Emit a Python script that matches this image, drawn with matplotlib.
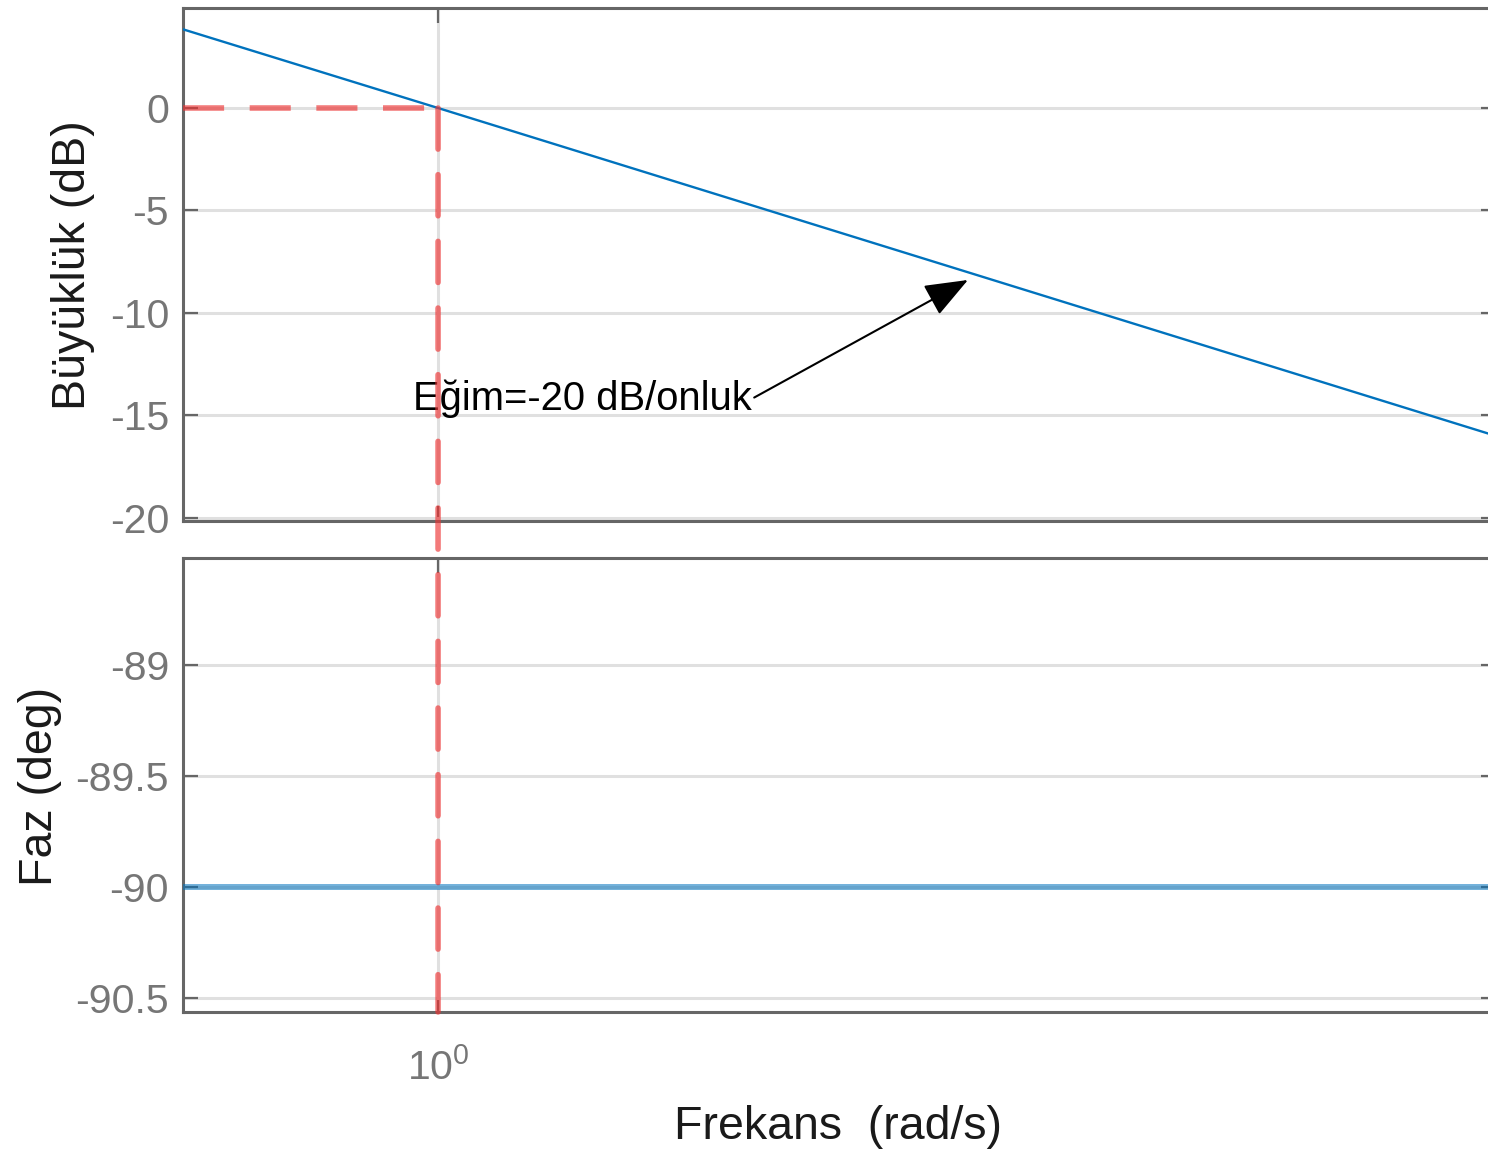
import matplotlib
matplotlib.use("Agg")
import matplotlib.pyplot as plt
from matplotlib.patches import ConnectionPatch
from matplotlib.ticker import NullLocator, FixedLocator

plt.rcParams['font.family'] = ['Liberation Sans', 'DejaVu Sans']
plt.rcParams['mathtext.fontset'] = 'custom'
plt.rcParams['mathtext.rm'] = 'Liberation Sans'
plt.rcParams['mathtext.it'] = 'Liberation Sans:italic'

# values (Bode plot of 1/s)
freq = [0.643, 1.0, 6.245]
mag_db = [3.84, 0.0, -16.0]
phase_freq = [0.643, 6.245]
phase_deg = [-90.0, -90.0]

mag_ticks = [-20, -15, -10, -5, 0]
mag_labels = ['-20', '-15', '-10', '-5', '0']
phase_ticks = [-90.5, -90, -89.5, -89]
phase_labels = ['-90.5', '-90', '-89.5', '-89']
freq_ticks = [1.0]
freq_labels = [r'$\mathregular{10^{0}}$']

cross_freq = 1.0
cross_db = 0.0
slope_text = 'Eğim=-20 dB/onluk'
slope_tip = (2.503, -8.39)
slope_text_pos = (0.957, -14.75)

W, H = 1488, 1155
fig = plt.figure(figsize=(W / 100, H / 100), dpi=100)

left = 183 / W
width = (1496 - 183) / W
ax1 = fig.add_axes([left, 1 - 521 / H, width, (521 - 8) / H])
ax2 = fig.add_axes([left, 1 - 1012 / H, width, (1012 - 558) / H])

spine_col = '#666666'
tick_col = '#767676'
grid_col = '#e0e0e0'
blue = '#0072bd'
red = (0.93, 0.2, 0.2)
dash = (0, (7.4, 4.6))

for ax in (ax1, ax2):
    ax.set_xscale('log')
    ax.set_xlim(0.643, 6.245)
    ax.xaxis.set_major_locator(FixedLocator(freq_ticks))
    ax.xaxis.set_minor_locator(NullLocator())
    ax.grid(True, color=grid_col, lw=2.2)
    ax.set_axisbelow(True)
    for s in ax.spines.values():
        s.set_color(spine_col)
        s.set_linewidth(2.2)
    ax.tick_params(direction='in', length=11, width=1.6, color=spine_col,
                   top=True, right=True, labelsize=29.5, labelcolor=tick_col,
                   pad=10)

# magnitude
ax1.plot(freq, mag_db, color=blue, lw=1.7, zorder=3)
ax1.set_ylim(-20.15, 4.88)
ax1.set_yticks(mag_ticks)
ax1.set_yticklabels(mag_labels)
ax1.tick_params(axis='x', labelbottom=False)
ax1.plot([0.643, cross_freq], [cross_db, cross_db], color=red, alpha=0.65,
         lw=4, ls=dash, zorder=4, solid_capstyle='butt')

ax1.annotate(slope_text, xy=slope_tip, xytext=slope_text_pos,
             ha='left', va='baseline', fontsize=28.8, color='black', zorder=5,
             arrowprops=dict(arrowstyle='-|>,head_length=0.9,head_width=0.35',
                             mutation_scale=30, color='black', lw=1.5,
                             shrinkA=0, shrinkB=0, relpos=(1.0, 0.5)))

# phase
ax2.plot(phase_freq, phase_deg, color=blue, alpha=0.55, lw=4.3, zorder=3)
ax2.set_ylim(-90.563, -88.518)
ax2.set_yticks(phase_ticks)
ax2.set_yticklabels(phase_labels)
ax2.set_xticklabels(freq_labels)
ax2.tick_params(axis='x', pad=26)

# red dashed line through both panels at the crossover
con = ConnectionPatch(xyA=(cross_freq, cross_db), coordsA=ax1.transData,
                      xyB=(cross_freq, -90.563), coordsB=ax2.transData,
                      arrowstyle='-', color=red, alpha=0.65, lw=4,
                      linestyle=dash, zorder=6)
fig.add_artist(con)

fig.text(73 / W, 1 - 265 / H, 'Büyüklük (dB)', rotation=90, ha='center',
         va='center', fontsize=33.5, color='#1a1a1a')
fig.text(40 / W, 1 - 786 / H, 'Faz (deg)', rotation=90, ha='center',
         va='center', fontsize=33.5, color='#1a1a1a')
fig.text(838 / W, 1 - 1127 / H, 'Frekans  (rad/s)', ha='center',
         va='center', fontsize=33.5, color='#1a1a1a')

fig.savefig('out.png', dpi=100)
